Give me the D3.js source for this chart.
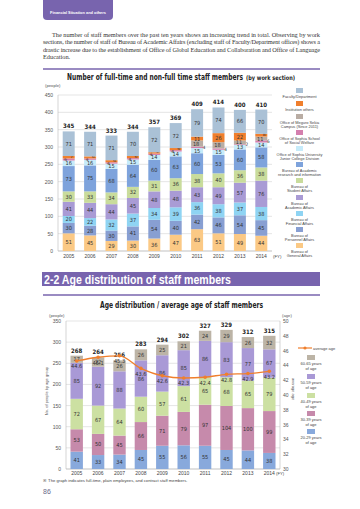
<!DOCTYPE html>
<html><head><meta charset="utf-8">
<script src="https://cdn.jsdelivr.net/npm/d3@7"></script>
<style>body{margin:0;background:#fff}svg{display:block}</style>
</head><body><svg id="c" width="360" height="509"></svg>
<script>
const years = ["2005","2006","2007","2008","2009","2010","2011","2012","2013","2014"];
// Top chart: staff by work section (stack order bottom -> top)
const generalAffairs    = [51,45,29,30,36,47,63,51,49,44];
const personnelAffairs  = [30,28,30,41,54,40,42,46,54,45];
const financialAffairs  = [20,22,32,37,34,39,36,38,37,38];
const academicAffairs   = [41,44,44,45,48,48,43,49,57,76];
const studentAffairs    = [30,33,34,32,31,36,38,40,36,38];
const researchInfo      = [73,75,68,64,60,63,60,53,60,58];
const juniorCollege     = [16,16,15,15,14,14,15,15,13,14];
const socialWelfare     = [6,4,4,4,4,4,4,4,2,6];
const meguroSekia       = [0,0,0,0,0,0,18,18,11,11];
const institutionOthers = [7,6,6,6,4,6,11,26,22,8];
const facultyDept       = [71,71,71,70,72,72,79,74,66,70];
const staffTotals       = [345,344,333,344,357,369,409,414,400,410];
const staffTicks        = [0,50,100,150,200,250,300,350,400,450];

// Bottom chart: age distribution
const age20s = [41,33,34,45,55,56,55,45,44,38];
const age30s = [53,50,45,66,71,79,97,104,100,99];
const age40s = [72,67,64,60,57,61,65,68,65,79];
const age50s = [85,92,88,86,86,85,86,83,77,67];
const age60s = [17,22,26,26,25,21,24,29,26,32];
const ageTotals = [268,264,256,283,294,302,327,329,312,315];
const averageAge = [44.6,45.1,45.3,43.6,42.6,42.3,42.4,42.8,42.9,43.2];
const peopleTicks = [0,50,100,150,200,250,300,350];
const ageTicks = [30,32,34,36,38,40,42,44,46,48,50];

const topSeries = [
  {key:"general", label:["Bureau of","General Affairs"], values:generalAffairs, color:"#fbc985"},
  {key:"personnel", label:["Bureau of","Personnel Affairs"], values:personnelAffairs, color:"#889fd2"},
  {key:"financial", label:["Bureau of","Financial Affairs"], values:financialAffairs, color:"#8fd4f3"},
  {key:"academic", label:["Bureau of","Academic Affairs"], values:academicAffairs, color:"#a99bd5"},
  {key:"student", label:["Bureau of","Student Affairs"], values:studentAffairs, color:"#c9dc9c"},
  {key:"research", label:["Bureau of Academic","research and information"], values:researchInfo, color:"#7ea3dc"},
  {key:"junior", label:["Office of Sophia University","Junior College Division"], values:juniorCollege, color:"#c6ebfa"},
  {key:"welfare", label:["Office of Sophia School","of Social Welfare"], values:socialWelfare, color:"#d47fae"},
  {key:"meguro", label:["Office of Meguro Sekia","Campus (Since 2011)"], values:meguroSekia, color:"#b9ada4"},
  {key:"inst", label:["Institution others"], values:institutionOthers, color:"#f07f2d"},
  {key:"faculty", label:["Faculty/Department"], values:facultyDept, color:"#aac1d6"}
];
const ageSeries = [
  {key:"a20", label:["20-29 years","of age"], values:age20s, color:"#88a9dc"},
  {key:"a30", label:["30-39 years","of age"], values:age30s, color:"#c68aab"},
  {key:"a40", label:["40-49 years","of age"], values:age40s, color:"#cce0a2"},
  {key:"a50", label:["50-59 years","of age"], values:age50s, color:"#a999d6"},
  {key:"a60", label:["60-65 years","of age"], values:age60s, color:"#bcb4a6"}
];

const NARROW = "'Liberation Sans Narrow','DejaVu Sans Condensed','Liberation Sans',Arial,sans-serif";
const SANS = "'Liberation Sans',Arial,sans-serif";
const SERIF = "'Liberation Serif','DejaVu Serif',serif";
const PURPLE = "#7864ae";
const svg = d3.select("#c");

// ---------- page header ----------
svg.append("path").attr("d","M43,0 H113 V16 Q113,20 109,20 H47 Q43,20 43,16 Z").attr("fill",PURPLE);
svg.append("text").attr("x",50).attr("y",14).attr("fill","#fff").attr("font-family",SANS)
  .attr("font-size",4.4).attr("font-weight","bold").attr("textLength",56).attr("lengthAdjust","spacingAndGlyphs")
  .text("Financial Situation and others");

const para = [
  "The number of staff members over the past ten years shows an increasing trend in total. Observing by work",
  "sections, the number of staff of Bureau of Academic Affairs (excluding staff of Faculty/Department offices) shows a",
  "drastic increase due to the establishment of Office of Global Education and Collaboration and Office of Language",
  "Education."
];
para.forEach((t,i)=>{
  const x0 = i===0 ? 52 : 43;
  const tx = svg.append("text").attr("x",x0).attr("y",37+i*7.4).attr("font-family",SERIF)
    .attr("font-size",6.3).attr("fill","#333").text(t);
  if(i<3) tx.attr("textLength",320-x0).attr("lengthAdjust","spacing");
});
svg.append("line").attr("x1",43).attr("x2",320).attr("y1",69).attr("y2",69).attr("stroke",PURPLE).attr("stroke-width",1.6);

// ---------- top chart ----------
{
  svg.append("text").attr("x",67).attr("y",80).attr("font-family",NARROW).attr("font-weight","bold")
    .attr("fill","#222").attr("font-size",9).attr("textLength",176).attr("lengthAdjust","spacingAndGlyphs")
    .text("Number of full-time and non-full time staff members");
  svg.append("text").attr("x",246).attr("y",80).attr("font-family",NARROW).attr("font-weight","bold")
    .attr("fill","#222").attr("font-size",6.3).attr("textLength",49).attr("lengthAdjust","spacingAndGlyphs")
    .text("(by work section)");

  const x = d3.scaleBand().domain(years).range([58,272]).paddingInner(0.44).paddingOuter(0.22);
  const y = d3.scaleLinear().domain([0,450]).range([251,95]);
  const g = svg.append("g");
  g.selectAll("line.grid").data(staffTicks).join("line").attr("x1",58).attr("x2",272)
    .attr("y1",d=>y(d)).attr("y2",d=>y(d)).attr("stroke",d=>d===0?"#999":"#d4d4d4").attr("stroke-width",0.6);
  g.append("line").attr("x1",58).attr("x2",58).attr("y1",y(0)).attr("y2",y(450)).attr("stroke","#bbb").attr("stroke-width",0.6);
  g.selectAll("text.yt").data(staffTicks).join("text").attr("x",53).attr("y",d=>y(d)+2)
    .attr("text-anchor","end").attr("font-family",SANS).attr("font-size",5).attr("fill","#555").text(d=>d);
  g.append("text").attr("x",45).attr("y",87).attr("font-family",SANS).attr("font-size",4.2).attr("fill","#555").text("(people)");
  g.selectAll("text.xt").data(years).join("text").attr("x",d=>x(d)+x.bandwidth()/2).attr("y",258)
    .attr("text-anchor","middle").attr("font-family",SANS).attr("font-size",5).attr("fill","#444").text(d=>d);
  g.append("text").attr("x",273).attr("y",258).attr("font-family",SANS).attr("font-size",4.3).attr("fill","#444").text("(FY)");

  const rows = years.map((yr,i)=>{const o={year:yr}; topSeries.forEach(s=>o[s.key]=s.values[i]); return o;});
  const stack = d3.stack().keys(topSeries.map(s=>s.key))(rows);
  stack.forEach((layer,li)=>{
    const s = topSeries[li];
    layer.forEach(d=>{
      const v = d[1]-d[0];
      if(v<=0) return;
      const cx = x(d.data.year)+x.bandwidth()/2;
      g.append("rect").attr("x",x(d.data.year)).attr("width",x.bandwidth())
        .attr("y",y(d[1])).attr("height",y(d[0])-y(d[1])).attr("fill",s.color);
      const mid = (y(d[0])+y(d[1]))/2;
      let lx = cx, ly = mid+2, fs = 5.6;
      if(s.key==="welfare"){
        if(d.data.meguro>0){ lx = cx+7; ly = mid+1.5; fs=4.6; }
        else { lx = cx-3; ly = mid+2; fs=5; }
      }
      if(s.key==="inst" && v<9){ lx = cx+3; ly = mid+0.5; fs=5; }
      if(s.key==="meguro"){ lx = cx-1; }
      g.append("text").attr("x",lx).attr("y",ly).attr("text-anchor","middle").attr("font-family",NARROW)
        .attr("font-size",fs).attr("fill","#333").text(v);
    });
  });
  g.selectAll("text.tot").data(years).join("text").attr("x",d=>x(d)+x.bandwidth()/2)
    .attr("y",(d,i)=>y(d3.sum(topSeries,s=>s.values[i]))-3).attr("text-anchor","middle")
    .attr("font-family",NARROW).attr("font-size",6).attr("font-weight","bold").attr("fill","#222")
    .text((d,i)=>staffTotals[i]);

  // legend
  const legY = [88,101,114,130,146,162,178,195,211,227,243];
  const leg = topSeries.slice().reverse();
  leg.forEach((s,i)=>{
    g.append("rect").attr("x",296).attr("y",legY[i]).attr("width",7).attr("height",5).attr("fill",s.color);
    s.label.forEach((ln,j)=>{
      g.append("text").attr("x",299.5).attr("y",legY[i]+9.5+j*4.5).attr("text-anchor","middle")
        .attr("font-family",SANS).attr("font-size",3.9).attr("fill","#444").text(ln);
    });
  });
}

// ---------- section header ----------
svg.append("rect").attr("x",42).attr("y",272).attr("width",278).attr("height",14).attr("fill",PURPLE);
svg.append("text").attr("x",44).attr("y",283.5).attr("fill","#fff").attr("font-family",SANS).attr("font-weight","bold")
  .attr("font-size",12).attr("textLength",187).attr("lengthAdjust","spacingAndGlyphs")
  .text("2-2  Age distribution of staff members");
svg.append("line").attr("x1",43).attr("x2",320).attr("y1",295).attr("y2",295).attr("stroke",PURPLE).attr("stroke-width",1.4);

// ---------- bottom chart ----------
{
  svg.append("text").attr("x",100).attr("y",308).attr("font-family",NARROW).attr("font-weight","bold")
    .attr("font-size",9).attr("fill","#222").attr("textLength",163).attr("lengthAdjust","spacingAndGlyphs")
    .text("Age distribution / average age of staff members");

  const x = d3.scaleBand().domain(years).range([66,280]).paddingInner(0.42).paddingOuter(0.21);
  const y = d3.scaleLinear().domain([0,350]).range([469,321]);
  const yr = d3.scaleLinear().domain([30,50]).range([469,321]);
  const g = svg.append("g");
  g.selectAll("line.grid").data(peopleTicks).join("line").attr("x1",66).attr("x2",280)
    .attr("y1",d=>y(d)).attr("y2",d=>y(d)).attr("stroke",d=>d===0?"#999":"#d4d4d4").attr("stroke-width",0.6);
  g.append("line").attr("x1",66).attr("x2",66).attr("y1",469).attr("y2",321).attr("stroke","#bbb").attr("stroke-width",0.6);
  g.append("line").attr("x1",280).attr("x2",280).attr("y1",469).attr("y2",321).attr("stroke","#bbb").attr("stroke-width",0.6);
  g.selectAll("text.yt").data(peopleTicks).join("text").attr("x",61).attr("y",d=>y(d)+2)
    .attr("text-anchor","end").attr("font-family",SANS).attr("font-size",5).attr("fill","#555").text(d=>d);
  g.selectAll("text.yr").data(ageTicks).join("text").attr("x",283).attr("y",d=>yr(d)+2)
    .attr("font-family",SANS).attr("font-size",5).attr("fill","#555").text(d=>d);
  g.append("text").attr("x",49).attr("y",317).attr("font-family",SANS).attr("font-size",4.2).attr("fill","#555").text("(people)");
  g.append("text").attr("x",282).attr("y",317).attr("font-family",SANS).attr("font-size",4.2).attr("fill","#555").text("(age)");
  g.append("text").attr("transform","translate(48,391) rotate(-90)").attr("text-anchor","middle")
    .attr("font-family",SANS).attr("font-size",4).attr("fill","#555").text("No. of people by age group");
  g.append("text").attr("transform","translate(292,389) rotate(90)").attr("text-anchor","middle")
    .attr("font-family",SANS).attr("font-size",4).attr("fill","#555").text("average age");
  g.selectAll("text.xt").data(years).join("text").attr("x",d=>x(d)+x.bandwidth()/2).attr("y",475)
    .attr("text-anchor","middle").attr("font-family",SANS).attr("font-size",5).attr("fill","#444").text(d=>d);
  g.append("text").attr("x",276).attr("y",475).attr("font-family",SANS).attr("font-size",4.2).attr("fill","#444").text("(FY)");

  const rows = years.map((yr_,i)=>{const o={year:yr_}; ageSeries.forEach(s=>o[s.key]=s.values[i]); return o;});
  const stack = d3.stack().keys(ageSeries.map(s=>s.key))(rows);
  stack.forEach((layer,li)=>{
    const s = ageSeries[li];
    layer.forEach(d=>{
      const v = d[1]-d[0];
      const cx = x(d.data.year)+x.bandwidth()/2;
      g.append("rect").attr("x",x(d.data.year)).attr("width",x.bandwidth())
        .attr("y",y(d[1])).attr("height",y(d[0])-y(d[1])).attr("fill",s.color);
      g.append("text").attr("x",cx).attr("y",(y(d[0])+y(d[1]))/2+2).attr("text-anchor","middle")
        .attr("font-family",NARROW).attr("font-size",5.6).attr("fill","#333").text(v);
    });
  });
  g.selectAll("text.tot").data(years).join("text").attr("x",d=>x(d)+x.bandwidth()/2)
    .attr("y",(d,i)=>y(d3.sum(ageSeries,s=>s.values[i]))-3).attr("text-anchor","middle")
    .attr("font-family",NARROW).attr("font-size",6).attr("font-weight","bold").attr("fill","#222")
    .text((d,i)=>ageTotals[i]);

  const line = d3.line().x((d,i)=>x(years[i])+x.bandwidth()/2).y(d=>yr(d)).curve(d3.curveMonotoneX);
  g.append("path").datum(averageAge).attr("d",line).attr("fill","none").attr("stroke","#f07f2d").attr("stroke-width",1.3);
  g.selectAll("circle.avg").data(averageAge).join("circle").attr("cx",(d,i)=>x(years[i])+x.bandwidth()/2)
    .attr("cy",d=>yr(d)).attr("r",1.8).attr("fill","#f07f2d");
  g.selectAll("text.avg").data(averageAge).join("text").attr("x",(d,i)=>x(years[i])+x.bandwidth()/2)
    .attr("y",d=>yr(d)+7.5).attr("text-anchor","middle").attr("font-family",NARROW)
    .attr("font-size",5.6).attr("fill","#333").text(d=>d.toFixed(1));

  // legend
  g.append("line").attr("x1",298).attr("x2",312).attr("y1",348).attr("y2",348).attr("stroke","#f07f2d").attr("stroke-width",1.2);
  g.append("circle").attr("cx",305).attr("cy",348).attr("r",1.6).attr("fill","#f07f2d");
  g.append("text").attr("x",313).attr("y",349.5).attr("font-family",SANS).attr("font-size",4).attr("fill","#444").text("average age");
  const legY = [355,374,393,411,429];
  ageSeries.slice().reverse().forEach((s,i)=>{
    g.append("rect").attr("x",307).attr("y",legY[i]).attr("width",8).attr("height",5).attr("fill",s.color);
    s.label.forEach((ln,j)=>{
      g.append("text").attr("x",311).attr("y",legY[i]+10+j*4.5).attr("text-anchor","middle")
        .attr("font-family",SANS).attr("font-size",4).attr("fill","#444").text(ln);
    });
  });
}

// ---------- footnote & page number ----------
svg.append("text").attr("x",43).attr("y",482).attr("font-family",SANS).attr("font-size",4.2).attr("fill","#444")
  .text("※ The graph indicates full-time, plain employees, and contract staff members.");
svg.append("text").attr("x",43).attr("y",494).attr("font-family",SANS).attr("font-size",7).attr("fill","#6a6a8a").text("86");
</script></body></html>
